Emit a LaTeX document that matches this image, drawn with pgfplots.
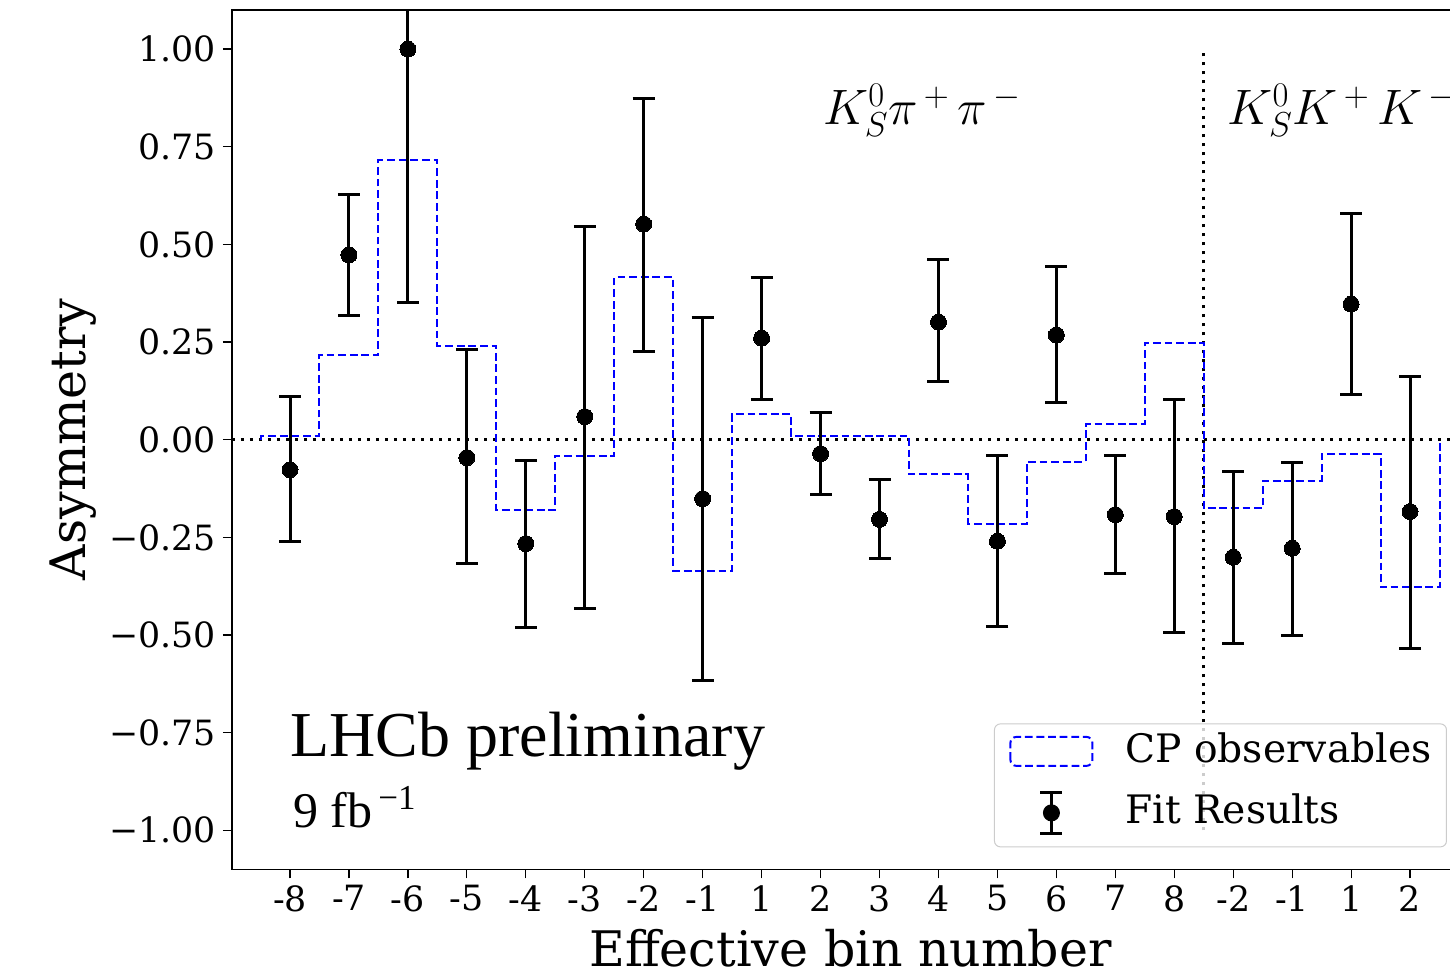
\documentclass[border=0pt]{standalone}
\usepackage[no-math]{fontspec}
\setmainfont{DejaVu Serif}
\newfontfamily\timesf{Liberation Serif}
\usepackage{pgfplots}
\usepackage{pgfplotstable}
\pgfplotsset{compat=1.18}

\pgfplotstableread{
x y ep em
0 -0.077 0.187 0.183
1 0.473 0.155 0.156
2 1.000 0.650 0.648
3 -0.046 0.276 0.271
4 -0.266 0.212 0.214
5 0.059 0.488 0.491
6 0.552 0.322 0.325
7 -0.151 0.463 0.465
8 0.260 0.156 0.158
9 -0.036 0.105 0.104
10 -0.204 0.102 0.100
11 0.301 0.159 0.153
12 -0.260 0.219 0.218
13 0.268 0.176 0.173
14 -0.192 0.151 0.150
15 -0.197 0.299 0.296
16 -0.301 0.219 0.220
17 -0.278 0.219 0.222
18 0.347 0.233 0.232
19 -0.184 0.347 0.350
}\fitdata

\pgfplotstableread{
x y
-0.5 0
-0.5 0.010
0.5 0.217
1.5 0.715
2.5 0.240
3.5 -0.179
4.5 -0.041
5.5 0.416
6.5 -0.335
7.5 0.066
8.5 0.010
9.5 0.010
10.5 -0.089
11.5 -0.215
12.5 -0.056
13.5 0.041
14.5 0.248
15.5 -0.176
16.5 -0.105
17.5 -0.036
18.5 -0.378
19.5 -0.378
19.5 0
}\histdata

\begin{document}
\begin{tikzpicture}
\begin{axis}[
  name=ax,
  scale only axis,
  width=618.5pt, height=429.7pt,
  xmin=-0.984, xmax=20.0,
  ymin=-1.1, ymax=1.1,
  axis line style={black, line width=0.7pt},
  tick align=outside,
  major tick length=4.5pt,
  tick style={black, line width=0.6pt},
  xtick pos=bottom, ytick pos=left,
  xtick={0,1,...,19},
  xticklabels={-8,-7,-6,-5,-4,-3,-2,-1,1,2,3,4,5,6,7,8,-2,-1,1,2},
  ytick={-1,-0.75,-0.5,-0.25,0,0.25,0.5,0.75,1},
  yticklabels={−1.00,−0.75,−0.50,−0.25,0.00,0.25,0.50,0.75,1.00},
  tick label style={font=\fontsize{17.4}{21}\selectfont},
  xlabel={Effective bin number},
  ylabel={Asymmetry},
  label style={font=\fontsize{24.5}{29}\selectfont},
  xlabel style={at={(axis description cs:0.5,-0.1128)}, anchor=base},
  ylabel style={at={(axis description cs:-0.1185,0.5)}, anchor=base},
  legend cell align=left,
  legend style={at={(0.9822,0.0256)}, anchor=south east,
    draw=black!20, line width=0.5pt, rounded corners=3pt,
    fill=white, fill opacity=0.8, text opacity=1,
    font=\fontsize{19.6}{23}\selectfont,
    inner xsep=7.5pt, inner ysep=6pt, row sep=12pt,
    nodes={inner sep=0pt, text height=13pt, text depth=2pt},
    /tikz/every odd column/.append style={column sep=16pt}},
]
\addplot[forget plot, black, line width=1.5pt, dash pattern=on 1.5pt off 3pt]
  coordinates {(-0.984,0) (20,0)};
\addplot[forget plot, black, line width=1.5pt, dash pattern=on 1.5pt off 3pt]
  coordinates {(15.5,-1) (15.5,1)};
\addplot[const plot, blue, line width=1pt, dash pattern=on 3.9pt off 1.9pt,
  legend image code/.code={\draw[blue, opacity=1, line width=1pt, dash pattern=on 3.9pt off 1.9pt] (0pt,-7.25pt) rectangle (41pt,7.25pt);}]
  table[x=x,y=y]{\histdata};
\addlegendentry{CP observables}
\addplot[black, only marks, mark=*, mark size=4pt, mark options={fill=black, draw=black, line width=0pt},
  legend image code/.code={
    \draw[black, opacity=1, line width=1.5pt] (20.5pt,-10.25pt) -- (20.5pt,10.25pt);
    \draw[black, opacity=1, line width=1.5pt] (15pt,-10.25pt) -- (26pt,-10.25pt);
    \draw[black, opacity=1, line width=1.5pt] (15pt,10.25pt) -- (26pt,10.25pt);
    \fill[black, opacity=1] (20.5pt,0pt) circle (4pt);
    \path (0pt,0pt) (41pt,0pt);},
  error bars/.cd, y dir=both, y explicit,
  error bar style={line width=1.5pt, black},
  error mark options={rotate=90, line width=1.5pt, black, mark size=5.5pt},
  ]
  table[x=x, y=y, y error plus=ep, y error minus=em]{\fitdata};
\addlegendentry{Fit Results}
\node[anchor=base west, inner sep=0pt, font=\fontsize{23}{28}\selectfont] at (axis cs:9.04,0.807) {$K^0_S\pi^{\,+}\,\pi^{\,-}$};
\node[anchor=base west, inner sep=0pt, font=\fontsize{23}{28}\selectfont] at (axis cs:15.9,0.807) {$K^0_S K^{\,+}\,K^{\,-}$};
\node[anchor=base west, inner sep=0pt, font=\timesf\fontsize{32}{38}\selectfont] at (axis cs:0,-0.812) {LHCb preliminary};
\node[anchor=base west, inner sep=0pt, font=\timesf\fontsize{25}{30}\selectfont] at (axis cs:0.05,-0.994) {9 fb\textsuperscript{\,−1}};
\end{axis}
\pgfresetboundingbox
\useasboundingbox ([shift={(-116pt,-53.85pt)}]ax.south west) rectangle ([shift={(609pt,5pt)}]ax.north west);
\end{tikzpicture}
\end{document}
